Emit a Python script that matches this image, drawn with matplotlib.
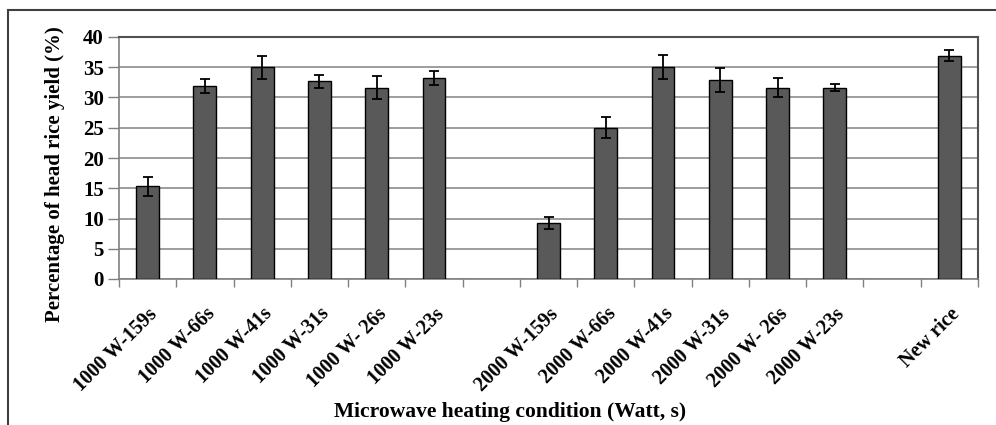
"""
Head rice yield under microwave heating conditions
"""
import numpy as np
import matplotlib.pyplot as plt
from matplotlib.patches import Rectangle

#%% Data
categories = ['1000 W-159s', '1000 W-66s', '1000 W-41s', '1000 W-31s', '1000 W- 26s', '1000 W-23s',
              '',
              '2000 W-159s', '2000 W-66s', '2000 W-41s', '2000 W-31s', '2000 W- 26s', '2000 W-23s',
              '',
              'New rice']
yield_pct = [15.3, 31.9, 35.0, 32.7, 31.6, 33.2,
             np.nan,
             9.3, 25.0, 35.0, 32.9, 31.6, 31.6,
             np.nan,
             36.9]
yield_err = [1.6, 1.1, 1.9, 1.1, 1.9, 1.1,
             np.nan,
             1.0, 1.7, 2.0, 2.0, 1.6, 0.6,
             np.nan,
             0.9]
yticks = [0, 5, 10, 15, 20, 25, 30, 35, 40]

#%% Plot
plt.rcParams['font.family'] = 'Liberation Serif'
plt.rcParams['font.weight'] = 'bold'

fig = plt.figure(figsize=(9.96, 4.25), dpi=100)
ax = fig.add_axes([119/996, 1-279/425, (978-119)/996, (279-37)/425])

x = np.arange(len(categories))
ax.bar(x, yield_pct, width=0.4, color='#595959', edgecolor='black', linewidth=1, zorder=3)
ax.errorbar(x, yield_pct, yerr=yield_err, fmt='none', ecolor='black', elinewidth=1.3,
            capsize=3.8, capthick=1.3, zorder=4)

ax.set_xlim(-0.5, len(categories) - 0.5)
ax.set_ylim(0, 40)
ax.set_yticks(yticks)
ax.tick_params(axis='y', labelsize=15, length=8, width=1, color='#808080', pad=3)
ax.yaxis.grid(True, color='#959595', linewidth=1.3, zorder=0)

ax.set_xticks(x)
ax.set_xticklabels(categories, rotation=45, ha='right', rotation_mode='anchor', fontsize=14.5)
ax.set_xticks(np.arange(len(categories) + 1) - 0.5, minor=True)
ax.tick_params(axis='x', which='major', length=0, pad=18)
ax.tick_params(axis='x', which='minor', length=6, width=1, color='#808080')

for side in ['left', 'bottom']:
    ax.spines[side].set_color('#808080')
    ax.spines[side].set_linewidth(1.2)
for side in ['top', 'right']:
    ax.spines[side].set_color('#505050')
    ax.spines[side].set_linewidth(1.5)

fig.text(55/996, 1-174/425, 'Percentage of head rice yield (%)', rotation=90,
         ha='center', va='center', fontsize=15, fontweight='bold')
fig.text(510/996, 1-412/425, 'Microwave heating condition (Watt, s)',
         ha='center', va='center', fontsize=15.5, fontweight='bold')

# Outer chart frame
fig.add_artist(Rectangle((8/996, -0.2), 1.2, 1.2 - 10/425, transform=fig.transFigure,
                         fill=False, edgecolor='#404040', linewidth=1.5))

fig.savefig('out.png', dpi=100)
